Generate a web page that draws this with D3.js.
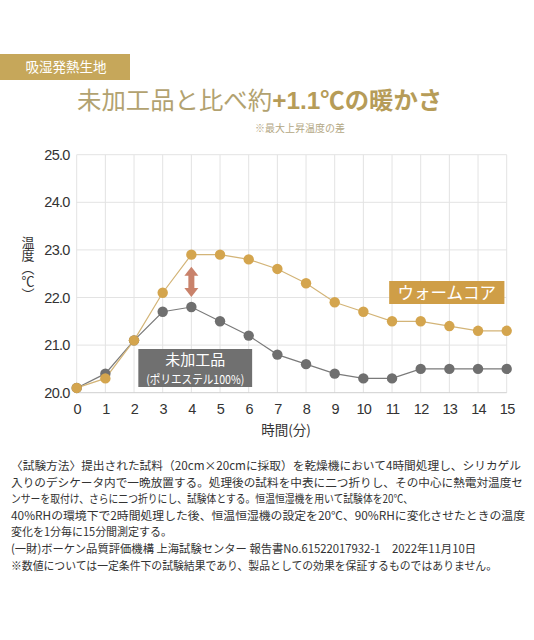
<!DOCTYPE html>
<html>
<head>
<meta charset="utf-8">
<script src="https://cdn.jsdelivr.net/npm/d3@7"></script>
<style>
  body { margin: 0; background: #fff; }
  svg { display: block; }
</style>
</head>
<body>
<script>
var w = 534;
var h = 640;

// data
var minutes = [0, 1, 2, 3, 4, 5, 6, 7, 8, 9, 10, 11, 12, 13, 14, 15];
var warmCore = [20.1, 20.3, 21.1, 22.1, 22.9, 22.9, 22.8, 22.6, 22.3, 21.9, 21.7, 21.5, 21.5, 21.4, 21.3, 21.3];
var untreated = [20.1, 20.4, 21.1, 21.7, 21.8, 21.5, 21.2, 20.8, 20.6, 20.4, 20.3, 20.3, 20.5, 20.5, 20.5, 20.5];
var yTicks = [20, 21, 22, 23, 24, 25];

var noteLines = [
  "〈試験方法〉提出された試料（20cm×20cmに採取）を乾燥機において4時間処理し、シリカゲル",
  "入りのデシケータ内で一晩放置する。処理後の試料を中表に二つ折りし、その中心に熱電対温度セ",
  "ンサーを取付け、さらに二つ折りにし、試験体とする。恒温恒湿機を用いて試験体を20℃、",
  "40%RHの環境下で2時間処理した後、恒温恒湿機の設定を20℃、90%RHに変化させたときの温度",
  "変化を1分毎に15分間測定する。",
  "(一財)ボーケン品質評価機構 上海試験センター 報告書No.61522017932-1　2022年11月10日",
  "※数値については一定条件下の試験結果であり、製品としての効果を保証するものではありません。"
];
var noteWidths = [510, 512, 402, 514, 161, 465, 486];

var jp = '"Noto Sans CJK JP", sans-serif';
var num = '"Liberation Sans", Arial, sans-serif';

var gold = "#d4a54e";
var grey = "#6f6f6f";

var svg = d3.select("body")
            .append("svg")
            .attr("width", w)
            .attr("height", h);

// header tag
svg.append("rect")
    .attr("x", 0).attr("y", 54)
    .attr("width", 130).attr("height", 26)
    .attr("fill", "#c6a75a");
svg.append("text")
    .attr("x", 66).attr("y", 72)
    .attr("text-anchor", "middle")
    .attr("font-family", jp)
    .attr("font-size", 13.5)
    .attr("fill", "#fff")
    .text("吸湿発熱生地");

// title
var title = svg.append("text")
    .attr("x", 77).attr("y", 109)
    .attr("font-family", jp)
    .attr("font-size", 24.4)
    .attr("fill", "#b2a270");
title.append("tspan").text("未加工品と比べ約");
title.append("tspan")
    .attr("font-weight", "bold")
    .attr("font-family", '"Liberation Sans", Arial, ' + jp)
    .attr("fill", "#b69c58")
    .text("+1.1℃");
title.append("tspan")
    .attr("font-weight", "bold")
    .attr("fill", "#b69c58")
    .text("の暖かさ");

svg.append("text")
    .attr("x", 255).attr("y", 132)
    .attr("font-family", jp)
    .attr("font-size", 10)
    .attr("fill", "#b3a784")
    .text("※最大上昇温度の差");

// scales
var xScale = d3.scaleLinear()
               .domain([0, 15])
               .range([76.7, 506.7]);

var yScale = d3.scaleLinear()
               .domain([20, 25])
               .range([392.7, 154.7]);

// grid
svg.append("g")
    .selectAll("line")
    .data(minutes)
    .enter()
    .append("line")
    .attr("x1", function(d) { return xScale(d); })
    .attr("x2", function(d) { return xScale(d); })
    .attr("y1", yScale(25))
    .attr("y2", yScale(20))
    .attr("stroke", "#e3e3e3")
    .attr("stroke-width", 1);

svg.append("g")
    .selectAll("line")
    .data(yTicks)
    .enter()
    .append("line")
    .attr("x1", xScale(0))
    .attr("x2", xScale(15))
    .attr("y1", function(d) { return yScale(d); })
    .attr("y2", function(d) { return yScale(d); })
    .attr("stroke", function(d) { return d === 20 ? "#cfcfcf" : "#e3e3e3"; })
    .attr("stroke-width", 1);

// y axis labels
var yAxis = d3.axisLeft(yScale)
              .tickValues(yTicks)
              .tickFormat(d3.format(".1f"))
              .tickSize(0)
              .tickPadding(7);
var gy = svg.append("g")
    .attr("transform", "translate(" + xScale(0) + ",0)")
    .call(yAxis);
gy.select(".domain").remove();
gy.selectAll("text")
    .attr("font-family", num)
    .attr("font-size", 14.5)
    .attr("letter-spacing", -0.7)
    .attr("fill", "#333");

// x axis labels
var xAxis = d3.axisBottom(xScale)
              .tickValues(minutes)
              .tickFormat(d3.format("d"))
              .tickSize(0)
              .tickPadding(11);
var gx = svg.append("g")
    .attr("transform", "translate(0," + yScale(20) + ")")
    .call(xAxis);
gx.select(".domain").remove();
gx.selectAll("text")
    .attr("font-family", num)
    .attr("font-size", 14.5)
    .attr("letter-spacing", -0.7)
    .attr("fill", "#333");

svg.append("text")
    .attr("x", 286).attr("y", 435)
    .attr("text-anchor", "middle")
    .attr("font-family", jp)
    .attr("font-size", 13.5)
    .attr("fill", "#333")
    .text("時間(分)");

// vertical Japanese axis title
svg.append("text")
    .attr("x", 28).attr("y", 236)
    .attr("writing-mode", "vertical-rl")
    .attr("font-family", jp)
    .attr("font-size", 13)
    .attr("fill", "#333")
    .text("温度（℃）");

// lines
var line = d3.line()
             .x(function(d, i) { return xScale(minutes[i]); })
             .y(function(d) { return yScale(d); });

svg.append("path")
    .datum(untreated)
    .attr("d", line)
    .attr("fill", "none")
    .attr("stroke", "#7a7a7a")
    .attr("stroke-width", 1.2);

svg.append("path")
    .datum(warmCore)
    .attr("d", line)
    .attr("fill", "none")
    .attr("stroke", "#d3b477")
    .attr("stroke-width", 1.2);

svg.append("g")
    .selectAll("circle")
    .data(untreated)
    .enter()
    .append("circle")
    .attr("cx", function(d, i) { return xScale(minutes[i]); })
    .attr("cy", function(d) { return yScale(d); })
    .attr("r", 5.2)
    .attr("fill", grey);

svg.append("g")
    .selectAll("circle")
    .data(warmCore)
    .enter()
    .append("circle")
    .attr("cx", function(d, i) { return xScale(minutes[i]); })
    .attr("cy", function(d) { return yScale(d); })
    .attr("r", 5.2)
    .attr("fill", gold);

// difference arrow at the peak (minute 4)
var ax = xScale(minutes[4]);
var aTop = yScale(warmCore[4]) + 12;
var aBot = yScale(untreated[4]) - 10;
var arrowColor = "#c9826b";
svg.append("rect")
    .attr("x", ax - 3).attr("y", aTop + 7)
    .attr("width", 6).attr("height", aBot - aTop - 14)
    .attr("fill", arrowColor);
svg.append("path")
    .attr("d", "M" + ax + "," + aTop + "L" + (ax + 7) + "," + (aTop + 9) + "L" + (ax - 7) + "," + (aTop + 9) + "Z")
    .attr("fill", arrowColor);
svg.append("path")
    .attr("d", "M" + ax + "," + aBot + "L" + (ax + 7) + "," + (aBot - 9) + "L" + (ax - 7) + "," + (aBot - 9) + "Z")
    .attr("fill", arrowColor);

// series labels
var gLab = svg.append("g");
gLab.append("rect")
    .attr("x", xScale(2.15)).attr("y", 349)
    .attr("width", xScale(6.12) - xScale(2.15)).attr("height", 38)
    .attr("fill", "#707070");
gLab.append("text")
    .attr("x", (xScale(2.15) + xScale(6.12)) / 2).attr("y", 365)
    .attr("text-anchor", "middle")
    .attr("font-family", jp)
    .attr("font-size", 15)
    .attr("fill", "#fff")
    .text("未加工品");
gLab.append("text")
    .attr("x", (xScale(2.15) + xScale(6.12)) / 2 - 49).attr("y", 384)
    .attr("textLength", 98)
    .attr("lengthAdjust", "spacingAndGlyphs")
    .attr("font-family", jp)
    .attr("font-size", 12)
    .attr("fill", "#fff")
    .text("(ポリエステル100%)");

gLab.append("rect")
    .attr("x", xScale(10.9)).attr("y", 281)
    .attr("width", xScale(14.92) - xScale(10.9)).attr("height", 23)
    .attr("fill", "#cf9e47");
gLab.append("text")
    .attr("x", (xScale(10.9) + xScale(14.92)) / 2).attr("y", 299)
    .attr("text-anchor", "middle")
    .attr("font-family", jp)
    .attr("font-size", 16.5)
    .attr("fill", "#fff")
    .text("ウォームコア");

// footnote
svg.append("g")
    .selectAll("text")
    .data(noteLines)
    .enter()
    .append("text")
    .attr("x", 11)
    .attr("y", function(d, i) { return 470 + i * 16.6; })
    .attr("textLength", function(d, i) { return noteWidths[i]; })
    .attr("lengthAdjust", "spacingAndGlyphs")
    .attr("font-family", jp)
    .attr("font-size", 11.5)
    .attr("fill", "#333")
    .text(function(d) { return d; });
</script>
</body>
</html>
